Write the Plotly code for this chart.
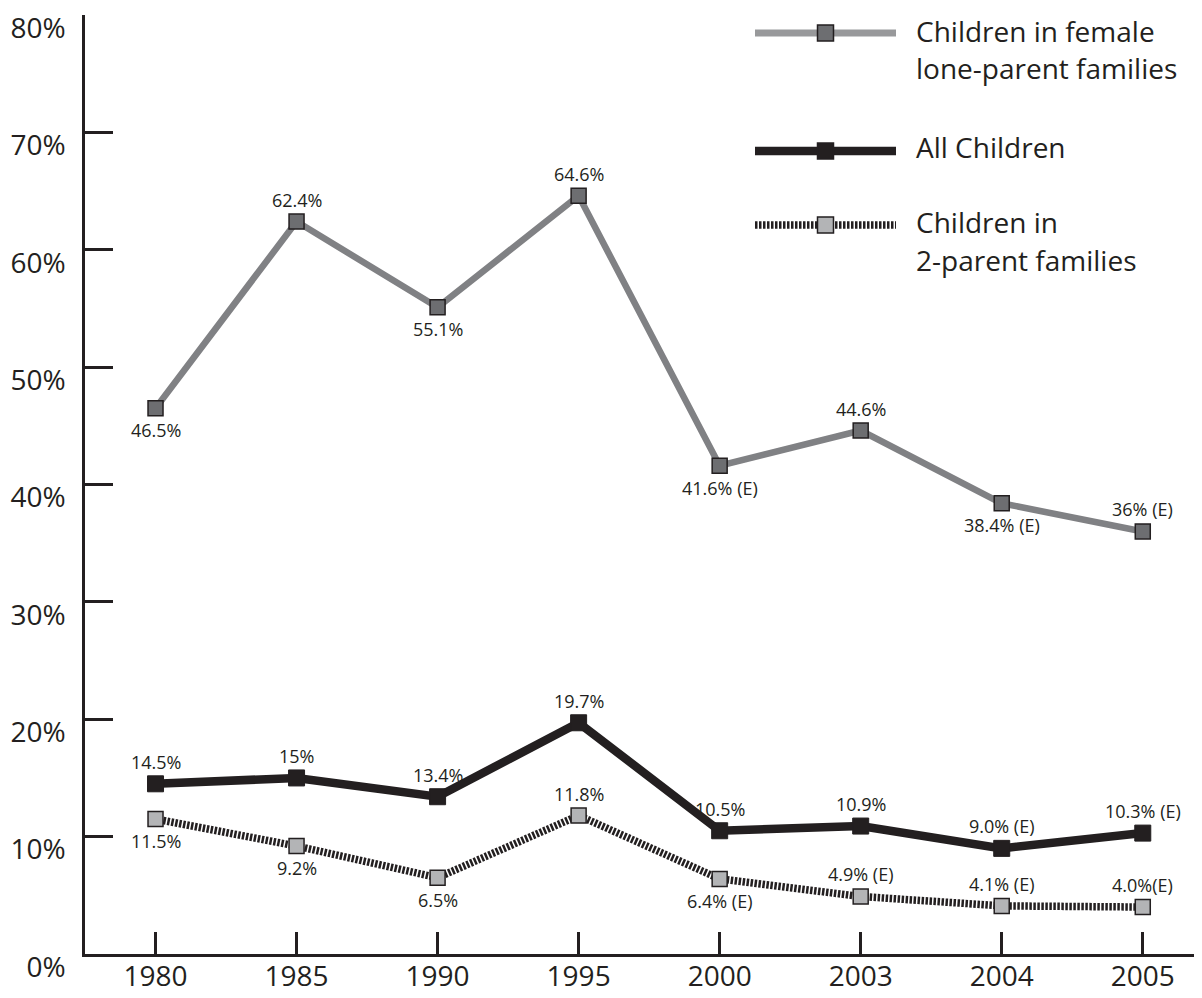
import plotly.graph_objects as go

years = ["1980", "1985", "1990", "1995", "2000", "2003", "2004", "2005"]
female_lone = [46.5, 62.4, 55.1, 64.6, 41.6, 44.6, 38.4, 36.0]
all_children = [14.5, 15.0, 13.4, 19.7, 10.5, 10.9, 9.0, 10.3]
two_parent = [11.5, 9.2, 6.5, 11.8, 6.4, 4.9, 4.1, 4.0]

female_labels = ["46.5%", "62.4%", "55.1%", "64.6%", "41.6% (E)", "44.6%", "38.4% (E)", "36% (E)"]
female_pos = ["below", "above", "below", "above", "below", "above", "below", "above"]
all_labels = ["14.5%", "15%", "13.4%", "19.7%", "10.5%", "10.9%", "9.0% (E)", "10.3% (E)"]
all_pos = ["above"] * 8
two_labels = ["11.5%", "9.2%", "6.5%", "11.8%", "6.4% (E)", "4.9% (E)", "4.1% (E)", "4.0%(E)"]
two_pos = ["below", "below", "below", "above", "below", "above", "above", "above"]

y_ticks = [0, 10, 20, 30, 40, 50, 60, 70, 80]
y_ticktext = [f"{v}%" for v in y_ticks]

legend_names = [["Children in female", "lone-parent families"], ["All Children"], ["Children in", "2-parent families"]]

INK = "#231f20"
FONT = "Open Sans"

fig = go.Figure()
fig.add_trace(go.Scatter(
    x=years, y=female_lone, mode="lines+markers", name="Children in female lone-parent families",
    line=dict(color="#808184", width=6.5),
    marker=dict(symbol="square", size=15, color="#6d6e71", line=dict(color=INK, width=1.5)),
    cliponaxis=False,
))
fig.add_trace(go.Scatter(
    x=years, y=all_children, mode="lines+markers", name="All Children",
    line=dict(color=INK, width=8.5),
    marker=dict(symbol="square", size=16, color=INK, line=dict(color=INK, width=1)),
    cliponaxis=False,
))
fig.add_trace(go.Scatter(
    x=years, y=two_parent, mode="lines+markers", name="Children in 2-parent families",
    line=dict(color=INK, width=7.5, dash="2.5px,1.5px"),
    marker=dict(symbol="square", size=15, color="#b3b4b6", line=dict(color=INK, width=1.5)),
    cliponaxis=False,
))

annotations = []
for vals, labs, poss in [(female_lone, female_labels, female_pos),
                         (all_children, all_labels, all_pos),
                         (two_parent, two_labels, two_pos)]:
    for i, (v, t, p) in enumerate(zip(vals, labs, poss)):
        annotations.append(dict(
            x=i, y=v, xref="x", yref="y", text=t, showarrow=False,
            yshift=22 if p == "above" else -22,
            font=dict(family=FONT, size=18, color=INK),
        ))

# The page body has an 8px margin; the figure is sized so it fills the window.
OFF = 8
W, H = 1202 - OFF, 998 - OFF
# plot area in window pixels
L, R, T, B = 85, 1202, 15, 954
def px_x(p):
    return (p - L) / (R - L)
def px_y(p):
    return (B - p) / (B - T)

shapes = []
leg_rows = [
    (33, "#98999b", 7, "solid", "#6d6e71", [30.5, 68]),
    (151, INK, 8.5, "solid", INK, [147]),
    (225, INK, 7.5, "2.5px,1.5px", "#b3b4b6", [222, 260]),
]
for (ly, lc, lw, ld, mf, text_ys), names in zip(leg_rows, legend_names):
    shapes.append(dict(type="line", xref="paper", yref="paper",
                       x0=px_x(755), x1=px_x(896), y0=px_y(ly), y1=px_y(ly),
                       line=dict(color=lc, width=lw, dash=ld)))
    shapes.append(dict(type="rect", xref="paper", yref="paper",
                       xsizemode="pixel", ysizemode="pixel",
                       xanchor=px_x(825.5), yanchor=px_y(ly),
                       x0=-8, x1=8, y0=-8, y1=8,
                       fillcolor=mf, line=dict(color=INK, width=1.5)))
    for ty, name in zip(text_ys, names):
        annotations.append(dict(
            x=px_x(914), y=px_y(ty), xref="paper", yref="paper", text=name,
            showarrow=False, xanchor="left", yanchor="middle",
            font=dict(family=FONT, size=28, color=INK),
        ))

fig.update_layout(
    width=W, height=H, autosize=False,
    margin=dict(l=L - OFF, r=W - (R - OFF), t=T - OFF, b=H - (B - OFF), autoexpand=False),
    paper_bgcolor="white", plot_bgcolor="white",
    showlegend=False,
    font=dict(family=FONT, color=INK),
    annotations=annotations,
    shapes=shapes,
    xaxis=dict(
        type="category", categoryorder="array", categoryarray=years,
        range=[-0.5, 7.42], showgrid=False, zeroline=False, automargin=False,
        showline=True, linecolor=INK, linewidth=2.5,
        ticks="inside", ticklen=22, tickwidth=2.5, tickcolor=INK,
        tickfont=dict(family=FONT, size=28, color=INK),
        ticklabelstandoff=-4, ticklabeloverflow="allow",
    ),
    yaxis=dict(
        range=[0, 80.0001], tickvals=y_ticks, ticktext=y_ticktext,
        showgrid=False, zeroline=False, automargin=False,
        showline=True, linecolor=INK, linewidth=2.5,
        ticks="inside", ticklen=28, tickwidth=2.5, tickcolor=INK,
        tickfont=dict(family=FONT, size=28, color=INK),
        ticklabelshift=13, ticklabelstandoff=11, ticklabeloverflow="allow",
    ),
)

fig.write_html("out.html")
